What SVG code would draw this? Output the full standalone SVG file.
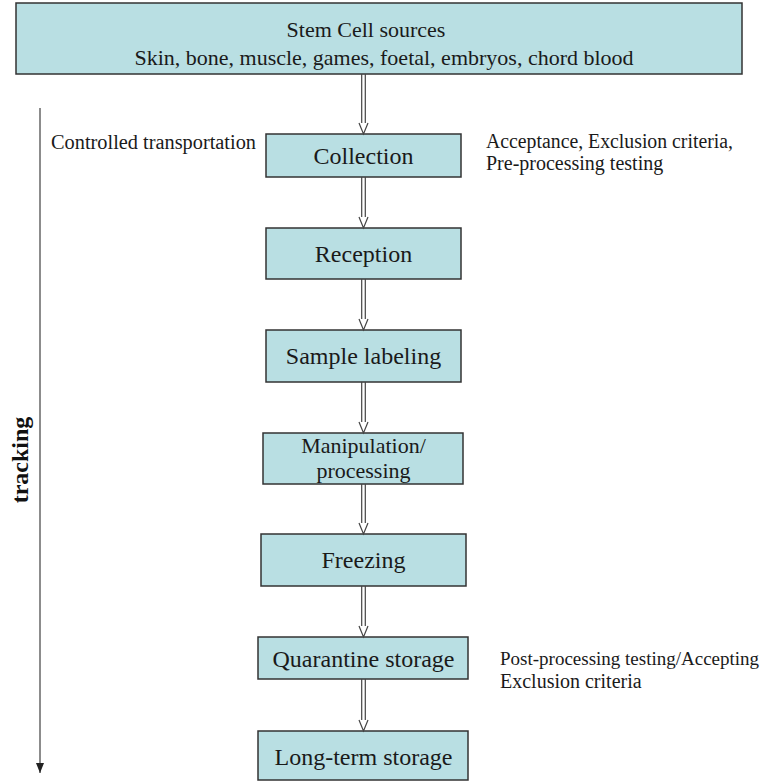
<svg xmlns="http://www.w3.org/2000/svg" width="771" height="781" viewBox="0 0 771 781">
<defs>
<style>
.box{fill:#b9dfe3;stroke:#333;stroke-width:1.5}
.nt{font-family:"Liberation Serif","Times New Roman",serif;font-size:24px;fill:#1a1a1a;text-anchor:middle}
.st{font-family:"Liberation Serif","Times New Roman",serif;font-size:20px;fill:#1a1a1a}
.sh{stroke:#444;stroke-width:1.2;fill:none}
</style>
<marker id="tri" markerWidth="10" markerHeight="8" refX="10" refY="4" orient="auto" markerUnits="userSpaceOnUse" viewBox="0 0 10 8">
<path d="M0,0 L10,4 L0,8 Z" fill="#222"/>
</marker>
</defs>
<rect width="771" height="781" fill="#fff"/>
<g id="sources">
<rect class="box" x="16" y="3" width="726" height="71"/>
<text class="nt" x="366" y="37" style="font-size:22px">Stem Cell sources</text>
<text class="nt" x="384" y="65" style="font-size:22px">Skin, bone, muscle, games, foetal, embryos, chord blood</text>
</g>
<g id="collection">
<rect class="box" x="266" y="134" width="195" height="43"/>
<text class="nt" x="363.5" y="164">Collection</text>
</g>
<g id="reception">
<rect class="box" x="266" y="228" width="195" height="51"/>
<text class="nt" x="363.5" y="262">Reception</text>
</g>
<g id="labeling">
<rect class="box" x="266" y="330" width="195" height="52"/>
<text class="nt" x="363.5" y="364">Sample labeling</text>
</g>
<g id="manipulation">
<rect class="box" x="263" y="433" width="200" height="51"/>
<text class="nt" x="363.5" y="453" style="font-size:22px">Manipulation/</text>
<text class="nt" x="363.5" y="478" style="font-size:22px">processing</text>
</g>
<g id="freezing">
<rect class="box" x="261" y="534" width="205" height="52"/>
<text class="nt" x="363.5" y="568">Freezing</text>
</g>
<g id="quarantine">
<rect class="box" x="258" y="637" width="210" height="42"/>
<text class="nt" x="363.5" y="667">Quarantine storage</text>
</g>
<g id="longterm">
<rect class="box" x="258" y="731" width="210" height="49"/>
<text class="nt" x="363.5" y="765">Long-term storage</text>
</g>
<g id="connectors">
<g class="sh">
<path d="M361.7,74 V123 M365.3,74 V123 M359,123 L363.5,134 L368,123"/>
<path d="M361.7,177 V217 M365.3,177 V217 M359,217 L363.5,228 L368,217"/>
<path d="M361.7,279 V319 M365.3,279 V319 M359,319 L363.5,330 L368,319"/>
<path d="M361.7,382 V422 M365.3,382 V422 M359,422 L363.5,433 L368,422"/>
<path d="M361.7,484 V523 M365.3,484 V523 M359,523 L363.5,534 L368,523"/>
<path d="M361.7,586 V626 M365.3,586 V626 M359,626 L363.5,637 L368,626"/>
<path d="M361.7,679 V720 M365.3,679 V720 M359,720 L363.5,731 L368,720"/>
</g>
<line x1="40" y1="108" x2="40" y2="773" stroke="#666" stroke-width="1.5" marker-end="url(#tri)"/>
</g>
<g id="labels">
<text x="20" y="460" transform="rotate(-90 20 460)" style="font-family:'Liberation Serif','Times New Roman',serif;font-size:24px;font-weight:bold;fill:#111;text-anchor:middle;dominant-baseline:central">tracking</text>
<text class="st" x="51" y="149" textLength="205" lengthAdjust="spacingAndGlyphs">Controlled transportation</text>
<text class="st" x="486" y="148" textLength="247" lengthAdjust="spacingAndGlyphs">Acceptance, Exclusion criteria,</text>
<text class="st" x="486" y="170">Pre-processing testing</text>
<text class="st" x="500" y="665" style="font-size:19px">Post-processing testing/Accepting</text>
<text class="st" x="500" y="688">Exclusion criteria</text>
</g>
</svg>
